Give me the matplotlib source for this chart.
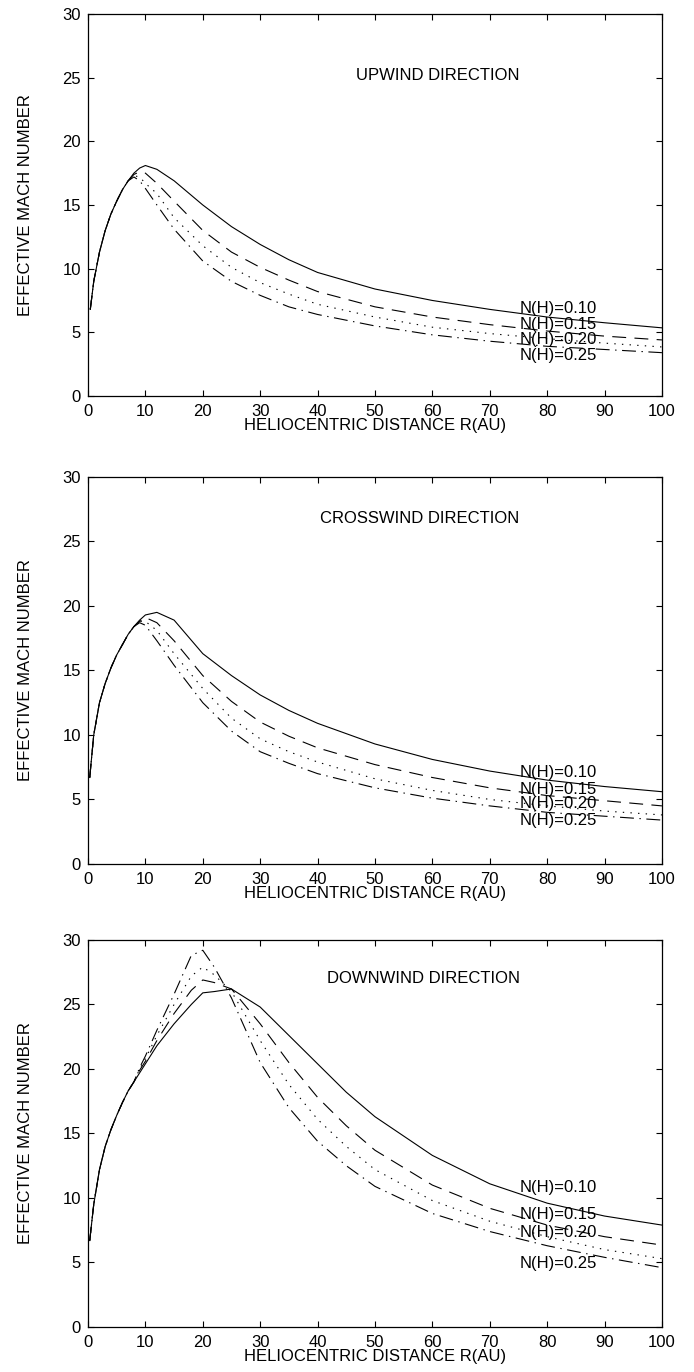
import numpy as np
import matplotlib.pyplot as plt

plt.rcParams['font.family'] = ['Liberation Sans', 'DejaVu Sans']
plt.rcParams['lines.scale_dashes'] = False

# heliocentric distance (AU) and effective Mach number for each N(H)
r_up = [0.4, 1, 2, 3, 4, 5, 6, 7, 8, 9, 10, 12, 15, 20, 25, 30, 35, 40, 50, 60, 70, 80, 90, 100]
up_010 = [6.8, 9.0, 11.3, 13.0, 14.3, 15.3, 16.2, 16.9, 17.5, 17.9, 18.1, 17.8, 16.9, 15.0, 13.3, 11.9, 10.7, 9.7, 8.4, 7.5, 6.8, 6.2, 5.75, 5.35]
up_015 = [6.8, 9.0, 11.3, 13.0, 14.3, 15.3, 16.2, 16.9, 17.4, 17.6, 17.5, 16.7, 15.3, 13.0, 11.3, 10.1, 9.1, 8.2, 7.0, 6.2, 5.6, 5.1, 4.7, 4.4]
up_020 = [6.8, 9.0, 11.3, 13.0, 14.3, 15.3, 16.2, 16.9, 17.3, 17.2, 16.7, 15.9, 14.0, 11.8, 10.1, 8.9, 8.0, 7.2, 6.2, 5.4, 4.9, 4.5, 4.15, 3.85]
up_025 = [6.8, 9.0, 11.3, 13.0, 14.3, 15.3, 16.2, 16.9, 17.2, 16.9, 16.3, 15.0, 13.1, 10.6, 9.0, 7.9, 7.0, 6.4, 5.5, 4.8, 4.3, 3.9, 3.65, 3.4]

r_cross = [0.3, 1, 2, 3, 4, 5, 6, 7, 8, 9, 10, 12, 15, 20, 25, 30, 35, 40, 50, 60, 70, 80, 90, 100]
cross_010 = [6.7, 10.0, 12.5, 14.0, 15.2, 16.2, 17.0, 17.8, 18.4, 18.9, 19.3, 19.5, 18.9, 16.3, 14.6, 13.1, 11.9, 10.9, 9.3, 8.1, 7.2, 6.5, 6.0, 5.6]
cross_015 = [6.7, 10.0, 12.5, 14.0, 15.2, 16.2, 17.0, 17.8, 18.4, 18.8, 19.1, 18.7, 17.3, 14.6, 12.6, 11.0, 9.9, 9.0, 7.7, 6.7, 5.9, 5.3, 4.9, 4.5]
cross_020 = [6.7, 10.0, 12.5, 14.0, 15.2, 16.2, 17.0, 17.8, 18.4, 18.8, 18.8, 18.1, 16.3, 13.6, 11.3, 9.7, 8.7, 7.9, 6.6, 5.7, 5.0, 4.5, 4.1, 3.8]
cross_025 = [6.7, 10.0, 12.5, 14.0, 15.2, 16.2, 17.0, 17.8, 18.4, 18.7, 18.5, 17.3, 15.4, 12.5, 10.3, 8.7, 7.8, 7.0, 5.9, 5.1, 4.5, 4.0, 3.7, 3.4]

r_down = [0.3, 1, 2, 3, 4, 5, 6, 7, 8, 9, 10, 12, 15, 18, 20, 22, 25, 30, 35, 40, 45, 50, 60, 70, 80, 90, 100]
down_010 = [6.7, 9.5, 12.2, 14.0, 15.3, 16.4, 17.4, 18.3, 19.0, 19.7, 20.4, 21.8, 23.5, 25.0, 25.9, 26.0, 26.2, 24.8, 22.6, 20.4, 18.2, 16.3, 13.3, 11.1, 9.6, 8.6, 7.9]
down_015 = [6.7, 9.5, 12.2, 14.0, 15.3, 16.4, 17.4, 18.3, 19.0, 19.9, 20.6, 22.2, 24.3, 26.1, 26.9, 26.7, 26.2, 23.5, 20.5, 17.8, 15.6, 13.7, 11.0, 9.2, 7.9, 7.0, 6.35]
down_020 = [6.7, 9.5, 12.2, 14.0, 15.3, 16.4, 17.4, 18.3, 19.0, 20.0, 20.8, 22.6, 25.0, 27.2, 27.9, 27.3, 26.0, 22.2, 18.8, 16.1, 14.0, 12.2, 9.8, 8.2, 7.0, 6.0, 5.3]
down_025 = [6.7, 9.5, 12.2, 14.0, 15.3, 16.4, 17.4, 18.3, 19.0, 20.1, 21.0, 23.0, 25.8, 28.8, 29.2, 27.9, 25.5, 20.5, 17.0, 14.4, 12.5, 10.9, 8.8, 7.4, 6.3, 5.4, 4.6]

density_labels = ['N(H)=0.10', 'N(H)=0.15', 'N(H)=0.20', 'N(H)=0.25']
styles = ['-', (0, (10, 6)), (0, (1, 4.5)), (0, (10, 4, 1, 4))]

# (title, title y, label y positions)
up_text = ('UPWIND DIRECTION', 25.2, [6.9, 5.6, 4.4, 3.15])
cross_text = ('CROSSWIND DIRECTION', 26.8, [7.05, 5.8, 4.65, 3.4])
down_text = ('DOWNWIND DIRECTION', 27.0, [10.85, 8.75, 7.35, 4.95])


def draw_panel(ax, r, curves, text):
    title, title_y, label_y = text
    for y, ls in zip(curves, styles):
        ax.plot(r, y, color='black', linewidth=0.8, linestyle=ls)
    for lab, ly in zip(density_labels, label_y):
        ax.text(75.2, ly, lab, fontsize=12, ha='left', va='center')
    ax.text(75.2, title_y, title, fontsize=12, ha='right', va='center')

    ax.set_xlim(0, 100)
    ax.set_ylim(0, 30)
    ax.set_xticks(np.arange(0, 101, 10))
    ax.set_yticks(np.arange(0, 31, 5))
    ax.tick_params(direction='in', top=True, right=True, length=4, width=0.8, labelsize=12)
    ax.tick_params(axis='x', pad=6)
    ax.tick_params(axis='y', pad=5)
    for sp in ax.spines.values():
        sp.set_linewidth(0.9)
    ax.set_xlabel('HELIOCENTRIC DISTANCE R(AU)', fontsize=12)
    ax.set_ylabel('EFFECTIVE MACH NUMBER', fontsize=12)
    ax.xaxis.set_label_coords(0.5, -0.058)
    ax.yaxis.set_label_coords(-0.096, 0.5)


fig = plt.figure(figsize=(6.94, 13.72), dpi=100)
ax1 = fig.add_axes([0.1268, 0.7114, 0.827, 0.2784])
ax2 = fig.add_axes([0.1268, 0.3703, 0.827, 0.2821])
ax3 = fig.add_axes([0.1268, 0.0328, 0.827, 0.2821])

draw_panel(ax1, r_up, [up_010, up_015, up_020, up_025], up_text)
draw_panel(ax2, r_cross, [cross_010, cross_015, cross_020, cross_025], cross_text)
draw_panel(ax3, r_down, [down_010, down_015, down_020, down_025], down_text)

fig.savefig('out.png', dpi=100)
